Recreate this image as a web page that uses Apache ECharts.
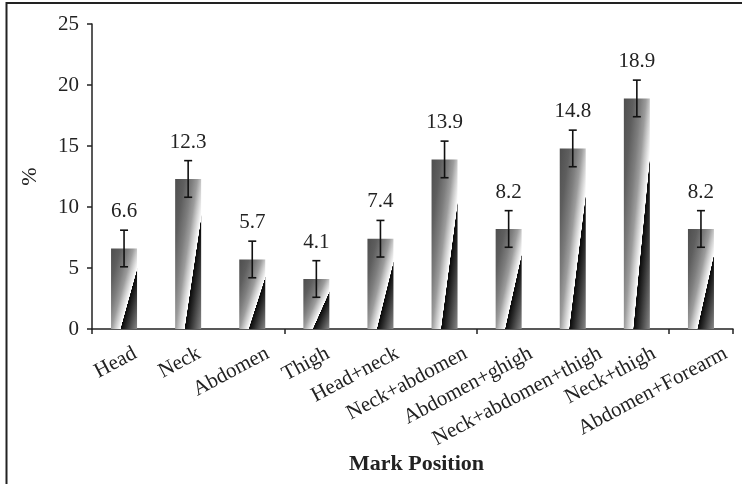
<!DOCTYPE html>
<html>
<head>
<meta charset="utf-8">
<script src="https://cdn.jsdelivr.net/npm/echarts@6/dist/echarts.min.js"></script>
<style>html,body{margin:0;padding:0;background:#fff;}#c{width:742px;height:484px;}</style>
</head>
<body>
<div id="c"></div>
<script>
const categories = ['Head','Neck','Abdomen','Thigh','Head+neck','Neck+abdomen','Abdomen+ghigh','Neck+abdomen+thigh','Neck+thigh','Abdomen+Forearm'];
const values = [6.6, 12.3, 5.7, 4.1, 7.4, 13.9, 8.2, 14.8, 18.9, 8.2];
const errors = [1.5, 1.5, 1.5, 1.5, 1.5, 1.5, 1.5, 1.5, 1.5, 1.5];
const yMin = 0, yMax = 25, yInterval = 5;
const xName = 'Mark Position';
const yName = '%';

const FONT = '"Liberation Serif", "DejaVu Serif", serif';
const BAR_W = 26;
const XLABEL_SIZE = 21;
const XLABEL_ROT = 28 * Math.PI / 180;
const chart = echarts.init(document.getElementById('c'), null, {renderer: 'canvas'});

const measureCtx = document.createElement('canvas').getContext('2d');
function textWidth(t, size) {
  measureCtx.font = size + 'px ' + FONT;
  return measureCtx.measureText(t).width;
}

function barGradient(w, H) {
  const k = 0.86;
  const t = w * H * (1 + k) / (H * H + k * k * w * w);
  const x2 = t * H / w, y2 = t * k * w / H;
  const f = q => (q + k) / (1 + k);
  return new echarts.graphic.LinearGradient(0, 0, x2, y2, [
    {offset: 0, color: '#4e4e4e'},
    {offset: f(-0.5), color: '#5e5e5e'},
    {offset: f(-0.2), color: '#7e7e7e'},
    {offset: f(0.0), color: '#9c9c9c'},
    {offset: f(0.15), color: '#c8c8c8'},
    {offset: f(0.3), color: '#f0f0f0'},
    {offset: f(0.36), color: '#ffffff'},
    {offset: f(0.36) + 0.006, color: '#080808'},
    {offset: f(0.55), color: '#2a2a2a'},
    {offset: 1, color: '#888888'}
  ]);
}

function buildOption(pxPerUnit) {
  return {
    animation: false,
    backgroundColor: '#fff',
    graphic: [{
      type: 'rect', silent: true, z: 100,
      shape: {x: 6.5, y: 3, width: 800, height: 600},
      style: {fill: 'none', stroke: '#222', lineWidth: 2}
    }],
    grid: {left: 92, right: 9, top: 24, bottom: 155, containLabel: false},
    xAxis: {
      type: 'category',
      data: categories,
      boundaryGap: true,
      name: xName,
      nameLocation: 'middle',
      nameGap: 124,
      nameTextStyle: {fontFamily: FONT, fontSize: 22, fontWeight: 'bold', color: '#222', padding: [0, 0, 0, 8]},
      axisLine: {show: true, lineStyle: {color: '#222', width: 1.5}},
      axisTick: {show: true, inside: false, length: 5, alignWithLabel: false, lineStyle: {color: '#222', width: 1.5}},
      axisLabel: {show: false},
      splitLine: {show: false}
    },
    yAxis: {
      type: 'value',
      min: yMin, max: yMax, interval: yInterval,
      name: yName,
      nameLocation: 'middle',
      nameGap: 51,
      nameRotate: 90,
      nameTextStyle: {fontFamily: FONT, fontSize: 22, color: '#222'},
      axisLine: {show: true, lineStyle: {color: '#222', width: 1.5}},
      axisTick: {show: true, inside: false, length: 5, lineStyle: {color: '#222', width: 1.5}},
      axisLabel: {margin: 13, fontFamily: FONT, fontSize: 21, color: '#222'},
      splitLine: {show: false}
    },
    series: [
      {
        type: 'bar',
        barWidth: BAR_W,
        data: values.map(v => ({
          value: v,
          itemStyle: {color: pxPerUnit ? barGradient(BAR_W, v * pxPerUnit) : '#888'}
        }))
      },
      {
        type: 'custom',
        z: 10,
        clip: false,
        data: categories.map((c, i) => [i, values[i], errors[i]]),
        encode: {x: 0, y: 1},
        renderItem: function (params, api) {
          const i = api.value(0), v = api.value(1), e = api.value(2);
          const top = api.coord([i, v + e]);
          const bot = api.coord([i, v - e]);
          const cap = 4;
          const ls = {stroke: '#111', lineWidth: 1.6};
          return {
            type: 'group',
            children: [
              {type: 'line', shape: {x1: top[0], y1: top[1], x2: bot[0], y2: bot[1]}, style: ls},
              {type: 'line', shape: {x1: top[0] - cap, y1: top[1], x2: top[0] + cap, y2: top[1]}, style: ls},
              {type: 'line', shape: {x1: bot[0] - cap, y1: bot[1], x2: bot[0] + cap, y2: bot[1]}, style: ls},
              {type: 'text', style: {
                text: String(v), x: top[0], y: top[1] - 8,
                textAlign: 'center', textVerticalAlign: 'bottom',
                fontFamily: FONT, fontSize: 21, fill: '#222'
              }}
            ]
          };
        }
      },
      {
        type: 'custom',
        z: 10,
        clip: false,
        silent: true,
        data: categories.map((c, i) => [i, yMin]),
        encode: {x: 0, y: 1},
        renderItem: function (params, api) {
          const i = api.value(0);
          const p = api.coord([i, yMin]);
          const label = categories[i];
          const L = textWidth(label, XLABEL_SIZE);
          const off = 0.115 * L + 1;
          return {
            type: 'text',
            x: p[0] + off,
            y: p[1] + 14,
            rotation: XLABEL_ROT,
            style: {
              text: label, x: 0, y: 0,
              textAlign: 'right', textVerticalAlign: 'top',
              fontFamily: FONT, fontSize: XLABEL_SIZE, fill: '#222'
            }
          };
        }
      }
    ]
  };
}

chart.setOption(buildOption(0));
const p0 = chart.convertToPixel({gridIndex: 0}, [0, yMin]);
const p1 = chart.convertToPixel({gridIndex: 0}, [0, yMax]);
const pxPerUnit = (p0[1] - p1[1]) / (yMax - yMin);
chart.setOption(buildOption(pxPerUnit));
</script>
</body>
</html>
